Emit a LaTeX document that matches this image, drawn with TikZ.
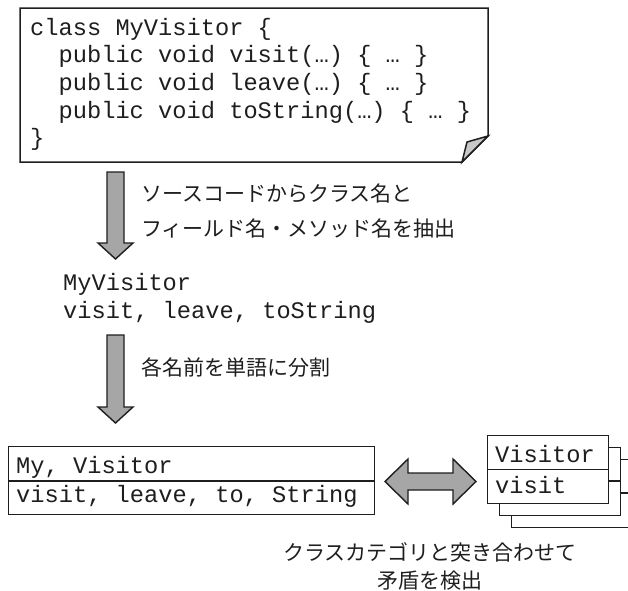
\documentclass[tikz,border=0pt]{standalone}
\usepackage{fontspec}
\setmonofont{Liberation Mono}
\newfontfamily\jpfont{Noto Sans CJK JP}
\definecolor{arrowfill}{RGB}{166,166,166}
\definecolor{flapfill}{RGB}{200,200,200}
\definecolor{ink}{RGB}{30,30,30}
\tikzset{
  codetext/.style={font=\ttfamily\fontsize{23.7}{27.7}\selectfont, inner sep=0pt, anchor=base west, text=ink, align=left},
  jptext/.style={font=\jpfont\fontsize{21}{35}\selectfont, inner sep=0pt, text=ink},
  outline/.style={draw=ink, line width=1.5pt, line join=miter},
  boxline/.style={draw=ink, line width=1.3pt, fill=white},
  blockarrow/.style={draw=ink, line width=1.4pt, fill=arrowfill, line join=miter},
}
\begin{document}
\begin{tikzpicture}[x=1pt, y=-1pt]
\useasboundingbox (0,0) rectangle (628,590);

% source file with folded corner
\draw[outline] (20,8) -- (488,8) -- (488,136) -- (462,162) -- (20,162) -- cycle;
\draw[outline, fill=flapfill] (488,136) -- (467,142) -- (462,162) -- cycle;
% multi-line nodes: the base anchor sits on the last line
\node[codetext] (src) at (30,145.8) {class MyVisitor \{\\
\hphantom{xx}public void visit(…) \{ … \}\\
\hphantom{xx}public void leave(…) \{ … \}\\
\hphantom{xx}public void toString(…) \{ … \}\\
\}};

% extraction step
\draw[blockarrow] (107,172) -- (124,172) -- (124,243) -- (133,243) -- (115.5,259)
  -- (98,243) -- (107,243) -- cycle;
\node[jptext, anchor=base west, align=left] (extract) at (141,236.5)
  {ソースコードからクラス名と\\フィールド名・メソッド名を抽出};

% extracted names
\node[codetext] (names) at (63,318.5) {MyVisitor\\visit, leave, toString};

% splitting step
\draw[blockarrow] (107,335) -- (124,335) -- (124,407) -- (133,407) -- (115.5,423)
  -- (98,407) -- (107,407) -- cycle;
\node[jptext, anchor=base west] (split) at (141,375.5) {各名前を単語に分割};

% split words
\node[boxline, anchor=north west, minimum width=366pt, minimum height=68pt, inner sep=0pt] (words) at (8,446) {};
\draw[draw=ink, line width=1.3pt] (8,481) -- (374,481);
\node[codetext] (cls) at (16,473) {My, Visitor};
\node[codetext] (mth) at (16,502) {visit, leave, to, String};

% comparison arrow
\draw[blockarrow] (385,481.5) -- (408,459) -- (408,473) -- (453,473) -- (453,459)
  -- (476,481.5) -- (453,504) -- (453,490) -- (408,490) -- (408,504) -- cycle;

% stack of class categories
\node[boxline, anchor=north west, minimum width=121pt, minimum height=68pt, inner sep=0pt] (cat3) at (511,459) {};
\draw[draw=ink, line width=1.3pt] (511,493) -- (632,493);
\node[boxline, anchor=north west, minimum width=121pt, minimum height=68pt, inner sep=0pt] (cat2) at (499,447) {};
\draw[draw=ink, line width=1.3pt] (499,481) -- (620,481);
\node[boxline, anchor=north west, minimum width=121pt, minimum height=68pt, inner sep=0pt] (cat1) at (487,435) {};
\draw[draw=ink, line width=1.3pt] (487,469.5) -- (608,469.5);
\node[codetext] (catname) at (495,462) {Visitor};
\node[codetext] (catword) at (495,493) {visit};

% comparison caption
\node[jptext, anchor=base, align=center, font=\jpfont\fontsize{21}{28}\selectfont] (detect) at (430,588)
  {クラスカテゴリと突き合わせて\\矛盾を検出};
\end{tikzpicture}
\end{document}
